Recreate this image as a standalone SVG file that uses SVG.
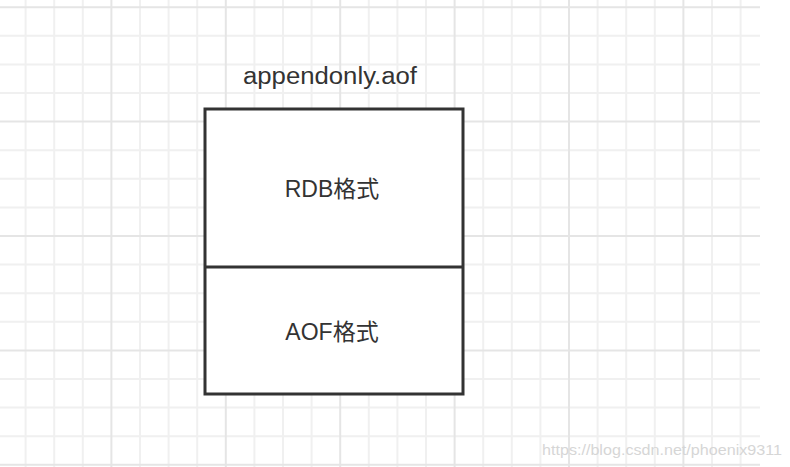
<svg xmlns="http://www.w3.org/2000/svg" width="790" height="467" viewBox="0 0 790 467">
<style>
.minor{stroke:#f0f0f0;stroke-width:2;fill:none}
.major{stroke:#e5e5e5;stroke-width:2;fill:none}
.box{fill:#ffffff;stroke:#333333;stroke-width:3}
.lbl{font-family:"Liberation Sans","Noto Sans CJK SC",sans-serif;fill:#333333}
.wm{font-family:"Liberation Sans",sans-serif;fill:#d6d6d6;font-size:14px}
</style>
<rect width="790" height="467" fill="#ffffff"/>
<g id="grid">
<path class="minor" d="M25.6 0V467M54.2 0V467M82.8 0V467M140 0V467M168.6 0V467M197.2 0V467M254.4 0V467M283 0V467M311.6 0V467M368.8 0V467M397.4 0V467M426 0V467M483.2 0V467M511.8 0V467M540.4 0V467M597.6 0V467M626.2 0V467M654.8 0V467M712 0V467M740.6 0V467"/>
<path class="minor" d="M0 35.8H760M0 64.4H760M0 93H760M0 150.2H760M0 178.8H760M0 207.4H760M0 264.6H760M0 293.2H760M0 321.8H760M0 379H760M0 407.6H760M0 436.2H760"/>
<path class="major" d="M111.4 0V467M225.8 0V467M340.2 0V467M454.6 0V467M569 0V467M683.4 0V467"/>
<path class="major" d="M0 7.2H760M0 121.6H760M0 236H760M0 350.4H760M0 464.8H760"/>
</g>
<g id="title">
<text class="lbl" x="243" y="84" font-size="23" textLength="174" lengthAdjust="spacingAndGlyphs">appendonly.aof</text>
</g>
<g id="file">
<rect class="box" x="205" y="109" width="258" height="285"/>
</g>
<g id="connectors">
<path d="M205 267H463" stroke="#333333" stroke-width="3" fill="none"/>
</g>
<g id="rdb">
<text class="lbl" x="332" y="197" font-size="23" text-anchor="middle">RDB格式</text>
</g>
<g id="aof">
<text class="lbl" x="332" y="340" font-size="23" text-anchor="middle">AOF格式</text>
</g>
<text class="wm" x="542" y="455" textLength="240" lengthAdjust="spacingAndGlyphs">https://blog.csdn.net/phoenix9311</text>
</svg>
